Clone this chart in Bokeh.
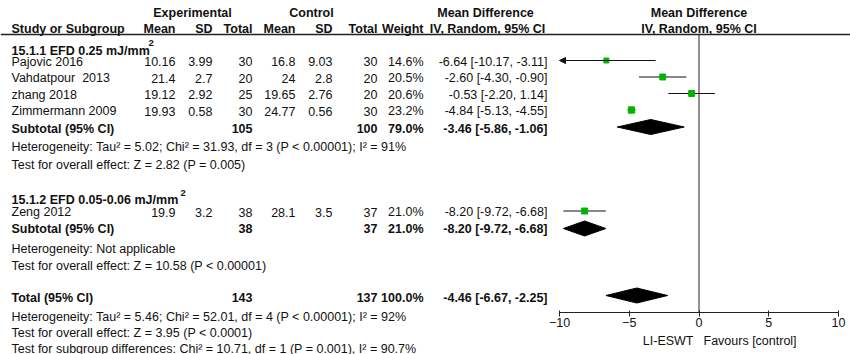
from bokeh.plotting import figure
from bokeh.models import Range1d, ColumnDataSource, FixedTicker, Arrow, NormalHead, LinearAxis
from bokeh.embed import file_html
from bokeh.resources import INLINE
from bokeh.core.properties import value

# ---------------- data ----------------
studies = ["Pajovic 2016", "Vahdatpour\u00a0 2013", "zhang 2018", "Zimmermann 2009", "Zeng 2012"]
exp_mean = ["10.16", "21.4", "19.12", "19.93", "19.9"]
exp_sd = ["3.99", "2.7", "2.92", "0.58", "3.2"]
exp_n = [30, 20, 25, 30, 38]
ctl_mean = ["16.8", "24", "19.65", "24.77", "28.1"]
ctl_sd = ["9.03", "2.8", "2.76", "0.56", "3.5"]
ctl_n = [30, 20, 20, 30, 37]
weight = [14.6, 20.5, 20.6, 23.2, 21.0]
md = [-6.64, -2.60, -0.53, -4.84, -8.20]
ci_lo = [-10.17, -4.30, -2.20, -5.13, -9.72]
ci_hi = [-3.11, -0.90, 1.14, -4.55, -6.68]

groups = ["15.1.1 EFD 0.25 mJ/mm", "15.1.2 EFD 0.05-0.06 mJ/mm"]
sub_exp_n = [105, 38]
sub_ctl_n = [100, 37]
sub_weight = [79.0, 21.0]
sub_md = [-3.46, -8.20]
sub_lo = [-5.86, -9.72]
sub_hi = [-1.06, -6.68]
sub_het = ["Heterogeneity: Tau\u00b2 = 5.02; Chi\u00b2 = 31.93, df = 3 (P < 0.00001); I\u00b2 = 91%",
           "Heterogeneity: Not applicable"]
sub_test = ["Test for overall effect: Z = 2.82 (P = 0.005)",
            "Test for overall effect: Z = 10.58 (P < 0.00001)"]

total_label = "Total (95% CI)"
total_exp_n = 143
total_ctl_n = 137
total_weight = 100.0
total_md = -4.46
total_lo = -6.67
total_hi = -2.25
total_notes = ["Heterogeneity: Tau\u00b2 = 5.46; Chi\u00b2 = 52.01, df = 4 (P < 0.00001); I\u00b2 = 92%",
               "Test for overall effect: Z = 3.95 (P < 0.0001)",
               "Test for subgroup differences: Chi\u00b2 = 10.71, df = 1 (P = 0.001), I\u00b2 = 90.7%"]

ticks = [-10, -5, 0, 5, 10]
axis_left_label = "LI-ESWT"
axis_right_label = "Favours [control]"
axis_limit = (-10, 10)

# ---------------- layout (pixels) ----------------
W, H = 850, 354
X0PX, PXU = 698.5, 13.95          # pixel of zero, pixels per unit
AXIS_Y = 312
FONT = "Liberation Sans"
FS = "12.5px"
TXT = "#111111"
LINE = "#222222"
GREEN = "#00b400"

study_y = [61, 77.5, 94, 110.5, 211.5]
group_y = [50, 199]
sup_pos = [(148, 42), (180, 192)]
sub_y = [128, 228]
het_y = [146, 248]
test_y = [164, 265]
total_y = 297
total_note_y = [316, 332, 348]

col_left = 11
col_exp_mean, col_exp_sd, col_exp_n = 175, 212, 252
col_ctl_mean, col_ctl_sd, col_ctl_n = 295, 332, 377
col_weight, col_ci = 423, 547

p = figure(width=W, height=H, output_backend="svg", toolbar_location=None,
           x_range=Range1d((0 - X0PX) / PXU, (W - X0PX) / PXU),
           y_range=Range1d(H, 0),
           x_axis_location=None, y_axis_location=None,
           min_border_left=0, min_border_right=0, min_border_top=0, min_border_bottom=0)
p.extra_x_ranges = {"px": Range1d(0, W)}
p.xgrid.visible = False
p.ygrid.visible = False
p.outline_line_color = None
p.background_fill_color = "white"
p.border_fill_color = "white"

ax = LinearAxis(fixed_location=AXIS_Y, ticker=FixedTicker(ticks=ticks), bounds=axis_limit,
                major_tick_out=4, major_tick_in=2, minor_tick_line_color=None,
                axis_line_color=LINE, major_tick_line_color=LINE,
                major_label_text_font=FONT, major_label_text_font_size=FS,
                major_label_text_color=TXT, major_label_standoff=1)
p.add_layout(ax, "below")


def txt(x, y, s, align="left", bold=False, size=FS):
    p.text(x=[x], y=[y], text=[s], x_range_name="px", text_align=align, text_baseline="middle",
           text_font=value(FONT), text_font_size=size, text_color=TXT,
           text_font_style="bold" if bold else "normal")


# header
txt(192, 12, "Experimental", "center", True)
txt(311, 12, "Control", "center", True)
txt(485, 12, "Mean Difference", "center", True)
txt(X0PX, 12, "Mean Difference", "center", True)
txt(col_left, 28, "Study or Subgroup", "left", True)
txt(col_exp_mean, 28, "Mean", "right", True)
txt(col_exp_sd, 28, "SD", "right", True)
txt(col_exp_n, 28, "Total", "right", True)
txt(col_ctl_mean, 28, "Mean", "right", True)
txt(col_ctl_sd, 28, "SD", "right", True)
txt(col_ctl_n, 28, "Total", "right", True)
txt(col_weight, 28, "Weight", "right", True)
txt(487, 28, "IV, Random, 95% CI", "center", True)
txt(X0PX, 28, "IV, Random, 95% CI", "center", True)
p.segment(x0=[0], x1=[W], y0=[34], y1=[34], x_range_name="px", line_color=LINE, line_width=1.6)

# study rows
src = ColumnDataSource(dict(
    y=study_y, name=studies, em=exp_mean, es=exp_sd, en=[str(v) for v in exp_n],
    cm=ctl_mean, cs=ctl_sd, cn=[str(v) for v in ctl_n],
    w=["%.1f%%" % v for v in weight],
    ci=["%.2f [%.2f, %.2f]" % (a, b, c) for a, b, c in zip(md, ci_lo, ci_hi)],
))
for col, xx, al in [("name", col_left, "left"), ("em", col_exp_mean, "right"), ("es", col_exp_sd, "right"),
                    ("en", col_exp_n, "right"), ("cm", col_ctl_mean, "right"), ("cs", col_ctl_sd, "right"),
                    ("cn", col_ctl_n, "right"), ("w", col_weight, "right"), ("ci", col_ci, "right")]:
    p.text(x=xx, y="y", text=col, source=src, x_range_name="px", text_align=al, text_baseline="middle",
           text_font=value(FONT), text_font_size=FS, text_color=TXT)

# subgroups
for i, g in enumerate(groups):
    txt(col_left, group_y[i], g, "left", True)
    txt(sup_pos[i][0], sup_pos[i][1], "2", "left", True, "9.5px")
    txt(col_left, sub_y[i], "Subtotal (95% CI)", "left", True)
    txt(col_exp_n, sub_y[i], str(sub_exp_n[i]), "right", True)
    txt(col_ctl_n, sub_y[i], str(sub_ctl_n[i]), "right", True)
    txt(col_weight, sub_y[i], "%.1f%%" % sub_weight[i], "right", True)
    txt(col_ci, sub_y[i], "%.2f [%.2f, %.2f]" % (sub_md[i], sub_lo[i], sub_hi[i]), "right", True)
    txt(col_left, het_y[i], sub_het[i])
    txt(col_left, test_y[i], sub_test[i])

# total
txt(col_left, total_y, total_label, "left", True)
txt(col_exp_n, total_y, str(total_exp_n), "right", True)
txt(col_ctl_n, total_y, str(total_ctl_n), "right", True)
txt(col_weight, total_y, "%.1f%%" % total_weight, "right", True)
txt(col_ci, total_y, "%.2f [%.2f, %.2f]" % (total_md, total_lo, total_hi), "right", True)
for s, yy in zip(total_notes, total_note_y):
    txt(col_left, yy, s)

# axis side labels
txt(693, 340, axis_left_label, "right")
txt(703, 340, axis_right_label, "left")

# zero line
p.segment(x0=[0], x1=[0], y0=[34], y1=[AXIS_Y], line_color=LINE, line_width=1)

# CI lines
lo_clip = [max(v, axis_limit[0]) for v in ci_lo]
hi_clip = [min(v, axis_limit[1]) for v in ci_hi]
my = [y - 1 for y in study_y]
normal = [i for i in range(len(md)) if ci_lo[i] >= axis_limit[0]]
clipped = [i for i in range(len(md)) if ci_lo[i] < axis_limit[0]]
p.segment(x0=[lo_clip[i] for i in normal], x1=[hi_clip[i] for i in normal],
          y0=[my[i] for i in normal], y1=[my[i] for i in normal], line_color=TXT, line_width=1.2)
asrc = ColumnDataSource(dict(xs=[hi_clip[i] for i in clipped], xe=[lo_clip[i] for i in clipped],
                             y=[my[i] for i in clipped]))
p.add_layout(Arrow(end=NormalHead(size=6, fill_color=TXT, line_color=TXT),
                   x_start="xs", x_end="xe", y_start="y", y_end="y", source=asrc,
                   line_color=TXT, line_width=1.2))

# study markers
p.scatter(x=md, y=my, marker="square", size=[1.3 * w ** 0.5 for w in weight],
          fill_color=GREEN, line_color=GREEN)

# diamonds
dx, dy = [], []
for m, lo, hi, yy in list(zip(sub_md, sub_lo, sub_hi, [126.5, 228])) + [(total_md, total_lo, total_hi, 295)]:
    dx.append([lo, m, hi, m])
    dy.append([yy, yy - 7.5, yy, yy + 7.5])
p.patches(xs=dx, ys=dy, fill_color="black", line_color="black")

open("out.html", "w").write(file_html(p, INLINE))
